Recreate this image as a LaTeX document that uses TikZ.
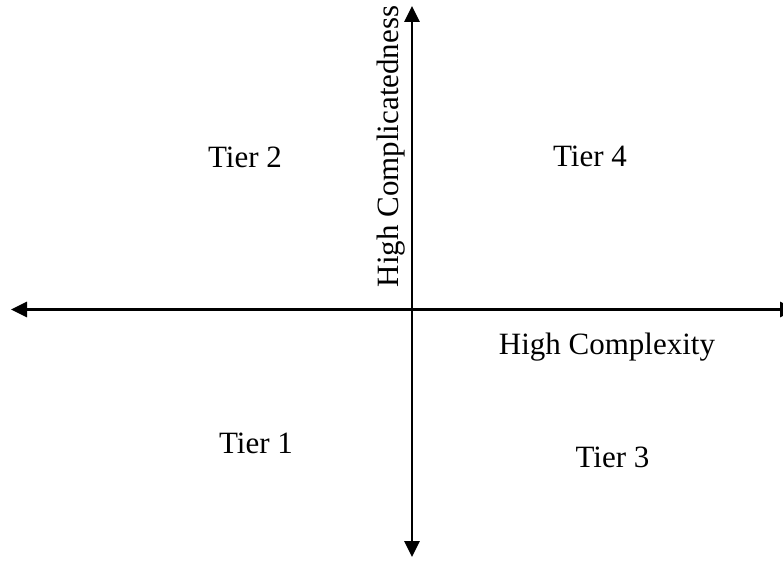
\documentclass[tikz,border=0pt]{standalone}
\usepackage{fontspec}
\setmainfont{Liberation Serif}
\usetikzlibrary{arrows.meta}
\begin{document}
\begin{tikzpicture}[x=1pt,y=-1pt,
  axis/.style={line width=2.8pt,{Triangle[length=16pt,width=15pt]}-{Triangle[length=16pt,width=15pt]}},
  lbl/.style={font=\fontsize{31}{36}\selectfont,inner sep=0pt}]
\useasboundingbox (0,0) rectangle (783,561);
\coordinate (L) at (11,309.5);
\coordinate (R) at (796,309.5);
\coordinate (T) at (412,6);
\coordinate (B) at (412,557);
\draw[axis] (L) -- (R);
\draw[axis] (B) -- (T);
\node[lbl] (t2) at (245,157) {Tier 2};
\node[lbl] (t4) at (590,156) {Tier 4};
\node[lbl] (t1) at (256,443) {Tier 1};
\node[lbl] (t3) at (612.5,457.5) {Tier 3};
\node[lbl] (hc) at (607,347) {High Complexity};
\node[lbl,rotate=90] (hv) at (391,146.5) {High Complicatedness};
\end{tikzpicture}
\end{document}
